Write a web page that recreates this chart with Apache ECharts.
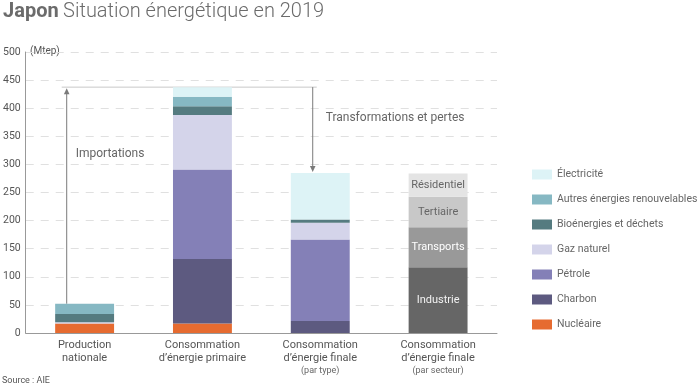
<!DOCTYPE html>
<html>
<head>
<meta charset="utf-8">
<script src="https://cdn.jsdelivr.net/npm/echarts@6/dist/echarts.min.js"></script>
<style>html,body{margin:0;padding:0;background:#fff}#c{width:700px;height:388px}</style>
</head>
<body>
<div id="c"></div>
<script>
const categories = ['Production nationale', 'Consommation d’énergie primaire', 'Consommation d’énergie finale (par type)', 'Consommation d’énergie finale (par secteur)'];
const yTicks = [0, 50, 100, 150, 200, 250, 300, 350, 400, 450, 500];

// energy by type (Mtep), categories 0..2
const nucleaire   = [17, 17, 0];
const charbon     = [0, 114.5, 21.5];
const petrole     = [0, 159.5, 145];
const gaz         = [2, 97, 29.5];
const bioenergies = [15, 15.5, 6];
const autresRenouv= [18, 17, 0];
const electricite = [0, 17, 82.5];

// final consumption by sector (Mtep), category 3
const industrie   = 117;
const transports  = 71;
const tertiaire   = 54.5;
const residentiel = 41.5;

const energySeries = [
  {name: 'Nucléaire', data: nucleaire, color: '#e66b30'},
  {name: 'Charbon', data: charbon, color: '#5d5a80'},
  {name: 'Pétrole', data: petrole, color: '#8480b7'},
  {name: 'Gaz naturel', data: gaz, color: '#d4d4ea'},
  {name: 'Bioénergies et déchets', data: bioenergies, color: '#557b80'},
  {name: 'Autres énergies renouvelables', data: autresRenouv, color: '#86b8c3'},
  {name: 'Électricité', data: electricite, color: '#ddf3f6'}
];
const sectorSeries = [
  {name: 'Industrie', value: industrie, color: '#666666', text: '#f2f2f2'},
  {name: 'Transports', value: transports, color: '#999999', text: '#ffffff'},
  {name: 'Tertiaire', value: tertiaire, color: '#c8c8c8', text: '#666666'},
  {name: 'Résidentiel', value: residentiel, color: '#e4e4e4', text: '#666666'}
];

const sumAt = i => energySeries.reduce((s, e) => s + e.data[i], 0);
const prodTotal = sumAt(0), primTotal = sumAt(1), finalTotal = sumAt(2);

const series = [];
energySeries.forEach(e => {
  series.push({
    name: e.name, type: 'bar', stack: 'a', barWidth: '50%', z: 3,
    itemStyle: {color: e.color},
    data: e.data.concat(['-'])
  });
});
sectorSeries.forEach(s => {
  series.push({
    name: s.name, type: 'bar', stack: 'a', barWidth: '50%', z: 3,
    itemStyle: {color: s.color},
    label: {show: true, position: 'inside', formatter: s.name, color: s.text, fontSize: 11, fontFamily: 'Roboto'},
    data: ['-', '-', '-', s.value]
  });
});
series.push({
  type: 'custom', z: 1, silent: true,
  data: [[0, prodTotal]],
  renderItem: function (params, api) {
    const band = api.size([1, 0])[0];
    const p0 = api.coord([0, prodTotal]);
    const xi = p0[0] - 0.152 * band, yb = p0[1];
    const yt = api.coord([1, primTotal])[1];
    const p2 = api.coord([2, finalTotal]);
    const xt = p2[0] - 0.064 * band, yf = p2[1];
    const dark = '#7a7a7a';
    return {type: 'group', children: [
      {type: 'line', shape: {x1: xi - 5, y1: yt, x2: xt + 4, y2: yt}, style: {stroke: '#c8c8c8', lineWidth: 1}},
      {type: 'line', shape: {x1: xi, y1: yb, x2: xi, y2: yt + 4}, style: {stroke: dark, lineWidth: 1}},
      {type: 'polygon', shape: {points: [[xi - 2.8, yt + 7], [xi + 2.8, yt + 7], [xi, yt + 1]]}, style: {fill: dark}},
      {type: 'line', shape: {x1: xt, y1: yt, x2: xt, y2: yf - 4}, style: {stroke: dark, lineWidth: 1}},
      {type: 'polygon', shape: {points: [[xt - 2.8, yf - 7], [xt + 2.8, yf - 7], [xt, yf - 1]]}, style: {fill: dark}},
      {type: 'text', x: xi + 9, y: yt + 0.31 * (yb - yt), style: {text: 'Importations', fill: '#666', fontSize: 12, fontFamily: 'Roboto', align: 'left', verticalAlign: 'middle'}},
      {type: 'text', x: xt + 13, y: yt + 0.36 * (yf - yt), style: {text: 'Transformations et pertes', fill: '#666', fontSize: 12, fontFamily: 'Roboto', align: 'left', verticalAlign: 'middle'}}
    ]};
  }
});

const axisLabelLines = {
  'Production nationale': '{a|Production}\n{a|nationale}',
  'Consommation d’énergie primaire': '{a|Consommation}\n{a|d’énergie primaire}',
  'Consommation d’énergie finale (par type)': '{a|Consommation}\n{a|d’énergie finale}\n{b|(par type)}',
  'Consommation d’énergie finale (par secteur)': '{a|Consommation}\n{a|d’énergie finale}\n{b|(par secteur)}'
};

const chart = echarts.init(document.getElementById('c'), null, {renderer: 'canvas'});
chart.setOption({
  animation: false,
  textStyle: {fontFamily: 'Roboto'},
  title: {
    left: 3, top: 2, padding: 0,
    text: '{b|Japon} {l|Situation énergétique en 2019}',
    textStyle: {rich: {
      b: {fontSize: 20, fontWeight: 'bold', color: '#6b6b6b', fontFamily: 'Roboto'},
      l: {fontSize: 20, fontWeight: 300, color: '#6b6b6b', fontFamily: 'Roboto'}
    }}
  },
  graphic: [
    {type: 'text', left: 2, top: 376, style: {text: 'Source : AIE', fill: '#555', fontSize: 9, fontFamily: 'Roboto'}},
    {type: 'text', left: 30, top: 46, style: {text: '(Mtep)', fill: '#555', fontSize: 10, fontFamily: 'Roboto'}}
  ],
  legend: {
    orient: 'vertical', left: 527, top: 163,
    itemWidth: 20, itemHeight: 10, itemGap: 12,
    icon: 'rect',
    data: ['Électricité', 'Autres énergies renouvelables', 'Bioénergies et déchets', 'Gaz naturel', 'Pétrole', 'Charbon', 'Nucléaire'],
    textStyle: {color: '#666', fontSize: 10.5, fontFamily: 'Roboto', padding: [0, 0, 0, 0], lineHeight: 13},
    selectedMode: false
  },
  grid: {left: 23, right: 203, top: 52, bottom: 55, containLabel: false},
  xAxis: {
    type: 'category', data: categories,
    axisTick: {show: false},
    axisLine: {lineStyle: {color: '#999', width: 1}},
    axisLabel: {
      margin: 5, interval: 0,
      formatter: v => axisLabelLines[v],
      rich: {
        a: {fontSize: 11, color: '#555', lineHeight: 13.5, fontFamily: 'Roboto'},
        b: {fontSize: 9, color: '#666', lineHeight: 12, fontFamily: 'Roboto'}
      }
    }
  },
  yAxis: {
    type: 'value', min: yTicks[0], max: yTicks[yTicks.length - 1], interval: 50,
    axisLine: {show: true, lineStyle: {color: '#999'}},
    axisTick: {show: false},
    axisLabel: {color: '#555', fontSize: 10.5, margin: 5, fontFamily: 'Roboto'},
    splitLine: {lineStyle: {color: '#e0e0e0', type: [8, 7]}}
  },
  series: series
});
</script>
</body>
</html>
